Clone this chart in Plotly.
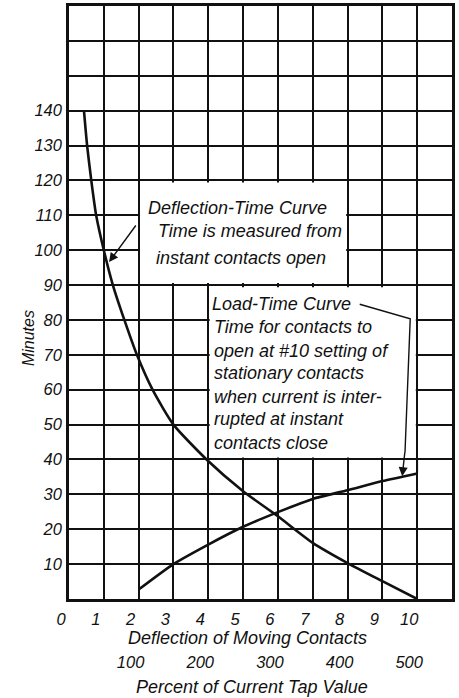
import plotly.graph_objects as go

# ---- data ----
defl_x = [0.43, 0.52, 0.64, 0.78, 1.0, 1.26, 1.59, 1.95, 2.4, 3.0, 3.95, 5.0, 6.0, 7.0, 8.0, 9.0, 10.0]
defl_y = [140, 130, 120, 110, 100, 90, 80, 70, 60, 50, 40, 30.9, 23.7, 16.1, 10.3, 5.1, 0]

load_x = [2, 3, 4, 5, 6, 7, 8, 9, 10]
load_y = [2.7, 10.0, 15.6, 20.7, 24.9, 28.7, 31.2, 33.8, 36.0]

x_ticks = list(range(0, 11))
x_tick_labels = [str(v) for v in x_ticks]
y_ticks = list(range(10, 170, 10))
y_tick_labels = [str(v) if v <= 140 else "" for v in y_ticks]
pct_ticks = [100, 200, 300, 400, 500]
pct_labels = ["100", "200", "300", "400", "500"]

defl_note = ["Deflection-Time Curve", "Time is measured from", "instant contacts open"]
load_note = ["Load-Time Curve", "Time for contacts to", "open at #10 setting of",
             "stationary contacts", "when current is inter-", "rupted at instant",
             "contacts close"]

FONT = "Liberation Sans, Arial, sans-serif"
ink = "#111111"

fig = go.Figure()
fig.add_trace(go.Scatter(x=defl_x, y=defl_y, mode="lines",
                         line=dict(color=ink, width=2.6, shape="spline", smoothing=0.6),
                         hoverinfo="skip", showlegend=False))
fig.add_trace(go.Scatter(x=load_x, y=load_y, mode="lines",
                         line=dict(color=ink, width=2.6, shape="spline", smoothing=0.6),
                         hoverinfo="skip", showlegend=False))
# end stub of load curve at x=10 up to arrow
fig.add_trace(go.Scatter(x=[load_x[-1], load_x[-1]], y=[load_y[-1], 40], mode="lines",
                         line=dict(color=ink, width=1.8), hoverinfo="skip", showlegend=False))
# leader of load-time note
fig.add_trace(go.Scatter(x=[8.35, 9.8, 9.65], y=[84.5, 80.3, 42], mode="lines",
                         line=dict(color=ink, width=1.4), hoverinfo="skip", showlegend=False))
# invisible trace to enable xaxis2
fig.add_trace(go.Scatter(x=[0, 550], y=[None, None], xaxis="x2", mode="lines",
                         showlegend=False, hoverinfo="skip"))

# white boxes hiding the grid behind notes
fig.add_shape(type="rect", x0=2.04, x1=7.96, y0=90.6, y1=119.4, layer="between",
              fillcolor="white", line=dict(width=0))
fig.add_shape(type="rect", x0=4.04, x1=9.96, y0=40.6, y1=89.4, layer="between",
              fillcolor="white", line=dict(width=0))

ann = []
tfont = dict(family=FONT, size=18, color=ink, style="italic")
tickf = dict(family=FONT, size=16.5, color=ink, style="italic")
ys1 = [112.1, 105.6, 97.8]
xs1 = [2.2, 2.5, 2.45]
for t, x, y in zip(defl_note, xs1, ys1):
    ann.append(dict(x=x, y=y, xref="x", yref="y", text=t, showarrow=False,
                    xanchor="left", yanchor="middle", font=tfont))
ys2 = [84.6, 78.0, 71.0, 64.8, 58.0, 51.6, 44.8]
for i, (t, y) in enumerate(zip(load_note, ys2)):
    ann.append(dict(x=4.05 if i == 0 else 4.12, y=y, xref="x", yref="y", text=t,
                    showarrow=False, xanchor="left", yanchor="middle", font=tfont))
# arrows
ann.append(dict(x=1.15, y=96.6, ax=1.95, ay=107.5, xref="x", yref="y", axref="x", ayref="y",
                text="", showarrow=True, arrowhead=2, arrowsize=1.3, arrowwidth=1.4,
                arrowcolor=ink))
ann.append(dict(x=9.57, y=35.2, ax=9.65, ay=42.5, xref="x", yref="y", axref="x", ayref="y",
                text="", showarrow=True, arrowhead=2, arrowsize=1.3, arrowwidth=1.4,
                arrowcolor=ink))
# axis titles
ann.append(dict(x=0.467, y=0, xref="paper", yref="paper", yshift=-39, text="Deflection of Moving Contacts",
                showarrow=False, xanchor="center", yanchor="middle", font=tfont))
ann.append(dict(x=0.478, y=0, xref="paper", yref="paper", yshift=-88, text="Percent of Current Tap Value",
                showarrow=False, xanchor="center", yanchor="middle", font=tfont))
ann.append(dict(x=0, y=0.44, xref="paper", yref="paper", xshift=-41, text="Minutes", textangle=-90,
                showarrow=False, xanchor="center", yanchor="middle",
                font=dict(family=FONT, size=16, color=ink, style="italic")))

fig.update_layout(
    width=459, height=698,
    margin=dict(l=69, r=7, t=6, b=99),
    paper_bgcolor="white", plot_bgcolor="white",
    annotations=ann,
    xaxis=dict(range=[0, 11], tickvals=x_ticks, ticktext=x_tick_labels, automargin=False,
               showgrid=True, gridcolor=ink, gridwidth=1.8, zeroline=False,
               showline=True, linecolor=ink, linewidth=2.5, mirror=True,
               ticks="", ticklabelstandoff=3, ticklabelshift=-8, tickfont=tickf),
    xaxis2=dict(range=[0, 550], overlaying="x", side="bottom", anchor="y", automargin=False,
                tickvals=pct_ticks, ticktext=pct_labels, showgrid=False, zeroline=False,
                showline=False, ticks="", ticklabelstandoff=51, ticklabelshift=-8,
                tickfont=tickf),
    yaxis=dict(range=[0, 170], tickvals=y_ticks, ticktext=y_tick_labels, automargin=False,
               showgrid=True, gridcolor=ink, gridwidth=1.8, zeroline=False,
               showline=True, linecolor=ink, linewidth=2.5, mirror=True,
               ticks="", ticklabelstandoff=1, tickfont=tickf),
)

fig.write_html("out.html", config={"displayModeBar": False},
               post_script="document.body.style.margin='0';document.body.style.overflow='hidden';")
